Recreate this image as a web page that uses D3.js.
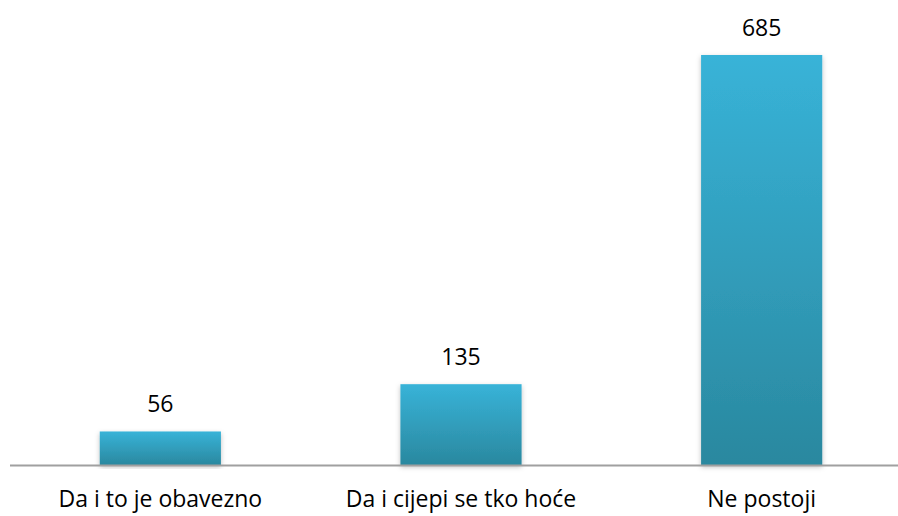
<!DOCTYPE html>
<html>
<head>
<meta charset="utf-8">
<script src="https://cdn.jsdelivr.net/npm/d3@7"></script>
<style>
  body { margin: 0; background: #fff; }
  text { font-family: "Open Sans", "Lato", sans-serif; fill: #000; }
</style>
</head>
<body>
<div id="chart"></div>
<script>
var categories = ["Da i to je obavezno", "Da i cijepi se tko hoće", "Ne postoji"];
var values = [56, 135, 685];

var width = 898, height = 516;
var baseY = 465, topY = 55;

var svg = d3.select("#chart").append("svg")
    .attr("width", width)
    .attr("height", height);

var defs = svg.append("defs");
var grad = defs.append("linearGradient")
    .attr("id", "barGrad")
    .attr("x1", 0).attr("y1", 0).attr("x2", 0).attr("y2", 1);
grad.append("stop").attr("offset", "0%").attr("stop-color", "#38b3d8");
grad.append("stop").attr("offset", "100%").attr("stop-color", "#2a889f");

var shadow = defs.append("filter")
    .attr("id", "shadow")
    .attr("x", "-10%").attr("y", "-10%")
    .attr("width", "120%").attr("height", "120%");
shadow.append("feDropShadow")
    .attr("dx", 0).attr("dy", 2)
    .attr("stdDeviation", 2.5)
    .attr("flood-color", "#000")
    .attr("flood-opacity", 0.25);

var x = d3.scaleBand()
    .domain(categories)
    .range([10, 912])
    .paddingInner(0.597)
    .paddingOuter(0.2985);

var y = d3.scaleLinear()
    .domain([0, 685])
    .range([baseY, topY]);

// bars
svg.selectAll(".bar")
    .data(values)
    .enter().append("rect")
    .attr("class", "bar")
    .attr("x", function(d, i) { return x(categories[i]); })
    .attr("y", function(d) { return y(d); })
    .attr("width", x.bandwidth())
    .attr("height", function(d) { return baseY - y(d); })
    .style("fill", "url(#barGrad)")
    .style("filter", "url(#shadow)");

// axis line
svg.append("line")
    .attr("x1", 10).attr("x2", width)
    .attr("y1", baseY + 0.5).attr("y2", baseY + 0.5)
    .style("stroke", "#a0a0a0")
    .style("stroke-width", 2);

// value labels
svg.selectAll(".val")
    .data(values)
    .enter().append("text")
    .attr("class", "val")
    .attr("x", function(d, i) { return x(categories[i]) + x.bandwidth() / 2; })
    .attr("y", function(d) { return y(d) - 19; })
    .attr("text-anchor", "middle")
    .style("font-size", "23px")
    .text(function(d) { return d; });

// category labels
svg.selectAll(".cat")
    .data(categories)
    .enter().append("text")
    .attr("class", "cat")
    .attr("x", function(d) { return x(d) + x.bandwidth() / 2; })
    .attr("y", 507)
    .attr("text-anchor", "middle")
    .style("font-size", "23px")
    .text(function(d) { return d; });
</script>
</body>
</html>
